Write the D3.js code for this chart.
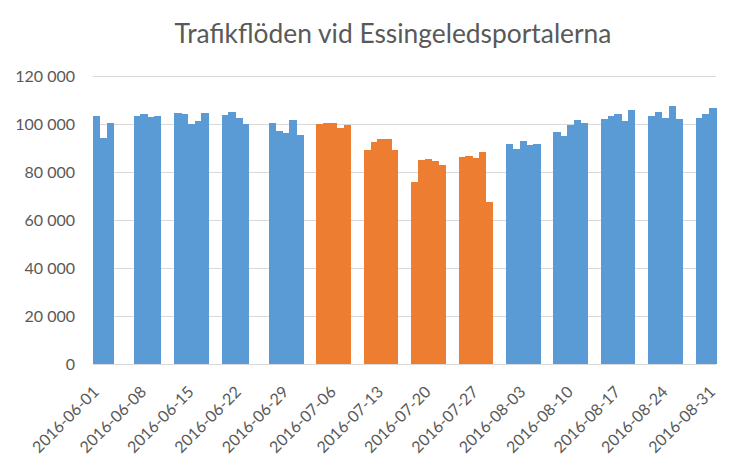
<!DOCTYPE html>
<html>
<head>
<meta charset="utf-8">
<script src="https://cdn.jsdelivr.net/npm/d3@7"></script>
<style>
  html, body { margin: 0; padding: 0; background: #fff; }
  svg { display: block; }
  text { font-family: Lato, "Open Sans", sans-serif; fill: #595959; }
</style>
</head>
<body>
<svg id="chart" width="752" height="468"></svg>
<script>
// ---- data ----
const title = "Trafikflöden vid Essingeledsportalerna";
const axisStart = "2016-06-01";
const axisEnd = "2016-08-31";
const dates = [
  "2016-06-01","2016-06-02","2016-06-03",
  "2016-06-07","2016-06-08","2016-06-09","2016-06-10",
  "2016-06-13","2016-06-14","2016-06-15","2016-06-16","2016-06-17",
  "2016-06-20","2016-06-21","2016-06-22","2016-06-23",
  "2016-06-27","2016-06-28","2016-06-29","2016-06-30","2016-07-01",
  "2016-07-04","2016-07-05","2016-07-06","2016-07-07","2016-07-08",
  "2016-07-11","2016-07-12","2016-07-13","2016-07-14","2016-07-15",
  "2016-07-18","2016-07-19","2016-07-20","2016-07-21","2016-07-22",
  "2016-07-25","2016-07-26","2016-07-27","2016-07-28","2016-07-29",
  "2016-08-01","2016-08-02","2016-08-03","2016-08-04","2016-08-05",
  "2016-08-08","2016-08-09","2016-08-10","2016-08-11","2016-08-12",
  "2016-08-15","2016-08-16","2016-08-17","2016-08-18","2016-08-19",
  "2016-08-22","2016-08-23","2016-08-24","2016-08-25","2016-08-26",
  "2016-08-29","2016-08-30","2016-08-31"
];
const values = [
  103300, 94000, 100500,
  103300, 104200, 102800, 103300,
  104700, 104200, 100000, 101200, 104700,
  103700, 105000, 102600, 100000,
  100400, 97100, 96300, 101700, 95400,
  100000, 100400, 100400, 98500, 99400,
  89300, 92500, 93800, 93800, 89300,
  76000, 85000, 85400, 84400, 83100,
  86400, 86700, 85800, 88300, 67600,
  91700, 89600, 92900, 91300, 91700,
  96700, 95100, 99600, 101700, 100600,
  102100, 103300, 104200, 101200, 105800,
  103300, 105000, 102500, 107500, 102100,
  102500, 104200, 106700
];
// highlighted period (orange)
const highlightStart = "2016-07-04";
const highlightEnd = "2016-07-29";
const tickLabels = [
  "2016-06-01","2016-06-08","2016-06-15","2016-06-22","2016-06-29",
  "2016-07-06","2016-07-13","2016-07-20","2016-07-27",
  "2016-08-03","2016-08-10","2016-08-17","2016-08-24","2016-08-31"
];
const yTicks = [0, 20000, 40000, 60000, 80000, 100000, 120000];

// ---- layout ----
const svg = d3.select("#chart");
const mLeft = 93, mRight = 716, mTop = 76, mBottom = 364;
const parse = d3.utcParse("%Y-%m-%d");
const fmt = d3.utcFormat("%Y-%m-%d");
const allDays = d3.utcDay.range(parse(axisStart), d3.utcDay.offset(parse(axisEnd), 1)).map(fmt);

const x = d3.scaleBand().domain(allDays).range([mLeft, mRight]).padding(0);
const y = d3.scaleLinear().domain([0, 120000]).range([mBottom, mTop]);

const blue = "#5B9BD5", orange = "#ED7D31";

// gridlines
svg.append("g").selectAll("line").data(yTicks.filter(t => t > 0)).join("line")
  .attr("x1", mLeft).attr("x2", mRight)
  .attr("y1", d => Math.round(y(d)) + 0.5).attr("y2", d => Math.round(y(d)) + 0.5)
  .attr("stroke", "#d9d9d9").attr("stroke-width", 1);

// bars
const data = dates.map((d, i) => ({ date: d, value: values[i] }));
svg.append("g").attr("shape-rendering", "crispEdges")
  .selectAll("rect").data(data).join("rect")
  .attr("x", d => x(d.date))
  .attr("width", x.bandwidth() + 0.6)
  .attr("y", d => y(d.value))
  .attr("height", d => y(0) - y(d.value))
  .attr("fill", d => (d.date >= highlightStart && d.date <= highlightEnd) ? orange : blue);

// x axis line
svg.append("line").attr("x1", mLeft).attr("x2", mRight)
  .attr("y1", Math.round(y(0)) + 0.5).attr("y2", Math.round(y(0)) + 0.5)
  .attr("stroke", "#d9d9d9").attr("stroke-width", 1);

// y labels
svg.append("g").selectAll("text").data(yTicks).join("text")
  .attr("x", 75).attr("y", d => y(d)).attr("dy", "0.36em")
  .attr("text-anchor", "end").style("font-size", "16px")
  .text(d => d === 0 ? "0" : d3.format(",")(d).replace(/,/g, " "));

// x labels
svg.append("g").selectAll("text").data(tickLabels).join("text")
  .attr("transform", d => `translate(${x(d) + x.bandwidth() / 2 + 3.6},393) rotate(-45)`)
  .attr("text-anchor", "end").style("font-size", "16px")
  .text(d => d);

// title
const t = svg.append("text").attr("x", 393).attr("y", 43)
  .attr("text-anchor", "middle").style("font-size", "24px").text(title);
const w = t.node().getComputedTextLength();
t.style("font-size", (24 * 437 / w).toFixed(2) + "px");
</script>
</body>
</html>
